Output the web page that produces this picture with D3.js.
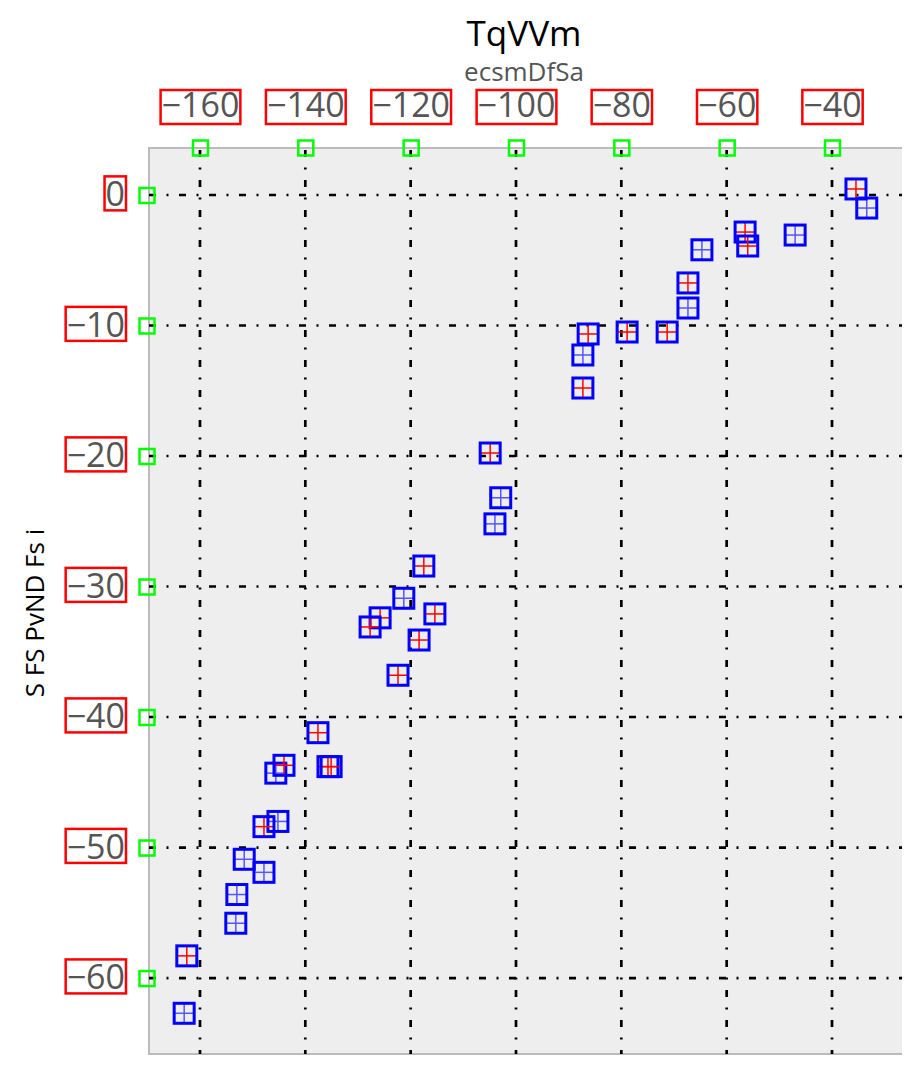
<!DOCTYPE html>
<html>
<head>
<meta charset="utf-8">
<script src="https://cdn.jsdelivr.net/npm/d3@7"></script>
<style>
  body { margin: 0; background: #fff; }
  svg { display: block; }
</style>
</head>
<body>
<div id="chart"></div>
<script>
const TITLE = "TqVVm";
const SUBTITLE = "ecsmDfSa";
const Y_LABEL = "S FS PvND Fs i";

const xTicks = [-160, -140, -120, -100, -80, -60, -40];
const yTicks = [0, -10, -20, -30, -40, -50, -60];

// points with the red cross
const redX = [-35.45, -56.5, -56.0, -67.35, -78.9, -71.3, -86.3, -87.3, -104.9, -117.5, -115.4,
              -125.8, -127.7, -118.4, -122.4, -137.6, -144.05, -135.7, -135.1, -147.85, -162.5];
const redY = [0.46, -2.84, -3.91, -6.74, -10.5, -10.5, -10.65, -14.79, -19.77, -28.43, -32.1,
              -32.4, -33.1, -34.1, -36.8, -41.2, -43.7, -43.8, -43.8, -48.4, -58.3];

// points with the blue cross
const blueX = [-33.4, -47.0, -64.7, -67.35, -87.3, -102.9, -104.0, -121.3, -145.6, -145.2,
               -151.6, -147.85, -153.0, -153.2, -163.0];
const blueY = [-1.0, -3.07, -4.2, -8.66, -12.26, -23.2, -25.2, -30.9, -44.3, -48.0,
               -50.9, -51.9, -53.6, -55.8, -62.7];

const xErr = 1.8;
const yErr = 0.8;

const W = 924, H = 1078;
const plot = { left: 149, right: 902, top: 148, bottom: 1054 };
const FONT = "'Open Sans', 'Noto Sans', sans-serif";

const x = d3.scaleLinear().domain([-169.68, -26.71]).range([plot.left, plot.right]);
const y = d3.scaleLinear().domain([3.6, -65.82]).range([plot.top, plot.bottom]);

const svg = d3.select("#chart").append("svg")
    .attr("width", W)
    .attr("height", H)
    .style("background", "#fff");

svg.append("rect")
    .attr("x", plot.left)
    .attr("y", plot.top)
    .attr("width", plot.right - plot.left)
    .attr("height", plot.bottom - plot.top)
    .attr("fill", "#eeeeee");

// frame (left, top, bottom)
svg.append("path")
    .attr("d", `M${plot.right},${plot.top}H${plot.left}V${plot.bottom}H${plot.right}`)
    .attr("fill", "none")
    .attr("stroke", "#bbbbbb")
    .attr("stroke-width", 2);

// grid
const grid = svg.append("g");
grid.selectAll("line.v")
    .data(xTicks)
    .join("line")
    .attr("class", "v")
    .attr("x1", d => x(d)).attr("x2", d => x(d))
    .attr("y1", plot.top).attr("y2", plot.bottom)
    .attr("stroke", "#000")
    .attr("stroke-width", 2.7)
    .attr("stroke-dasharray", "7,10.5,2,10.5")
    .attr("stroke-dashoffset", -2);
grid.selectAll("line.h")
    .data(yTicks)
    .join("line")
    .attr("class", "h")
    .attr("x1", plot.left).attr("x2", plot.right)
    .attr("y1", d => y(d)).attr("y2", d => y(d))
    .attr("stroke", "#000")
    .attr("stroke-width", 2.7)
    .attr("stroke-dasharray", "7,10.5,2,10.5");

// axes
const xAxis = svg.append("g")
    .attr("transform", `translate(0,${plot.top})`)
    .call(d3.axisTop(x).tickValues(xTicks).tickSize(0).tickPadding(31));
const yAxis = svg.append("g")
    .attr("transform", `translate(${plot.left},0)`)
    .call(d3.axisLeft(y).tickValues(yTicks).tickSize(0).tickPadding(24));

[xAxis, yAxis].forEach(g => {
    g.select(".domain").remove();
    g.selectAll("text")
        .attr("fill", "#555555")
        .style("font-family", FONT)
        .style("font-size", "34px");
});

// red label boxes and green tick boxes
function boxLabels(g, horizontal) {
    g.selectAll(".tick").each(function () {
        const tick = d3.select(this);
        const t = tick.select("text");
        const bb = t.node().getBBox();
        let top;
        if (horizontal) top = -31 - 27;
        else top = bb.y + bb.height / 2 - 17;
        tick.append("rect")
            .attr("x", bb.x - 1)
            .attr("y", top)
            .attr("width", bb.width + 2)
            .attr("height", 34)
            .attr("fill", "none")
            .attr("stroke", "#ff0000")
            .attr("stroke-width", 2.5);
        tick.append("rect")
            .attr("x", horizontal ? -7.5 : -9.5)
            .attr("y", -7.5)
            .attr("width", 15)
            .attr("height", 15)
            .attr("fill", "none")
            .attr("stroke", "#00ff00")
            .attr("stroke-width", 2.5);
    });
}
boxLabels(xAxis, true);
boxLabels(yAxis, false);

// points
function drawSeries(xs, ys, crossColor) {
    const pts = xs.map((v, i) => ({ x: v, y: ys[i] }));
    const g = svg.append("g");
    const p = g.selectAll("g").data(pts).join("g");
    p.append("line")
        .attr("x1", d => x(d.x - xErr)).attr("x2", d => x(d.x + xErr))
        .attr("y1", d => y(d.y)).attr("y2", d => y(d.y))
        .attr("stroke", crossColor).attr("stroke-width", 1.5);
    p.append("line")
        .attr("x1", d => x(d.x)).attr("x2", d => x(d.x))
        .attr("y1", d => y(d.y - yErr)).attr("y2", d => y(d.y + yErr))
        .attr("stroke", crossColor).attr("stroke-width", 1.5);
    p.append("rect")
        .attr("x", d => x(d.x) - 10)
        .attr("y", d => y(d.y) - 10)
        .attr("width", 20)
        .attr("height", 20)
        .attr("fill", "none")
        .attr("stroke", "#0000ff")
        .attr("stroke-width", 3);
}
drawSeries(blueX, blueY, "#5555ff");
drawSeries(redX, redY, "#ff0000");

// titles
svg.append("text")
    .attr("x", 524)
    .attr("y", 46)
    .attr("text-anchor", "middle")
    .style("font-family", FONT)
    .style("font-size", "35px")
    .attr("fill", "#000")
    .text(TITLE);
svg.append("text")
    .attr("x", 524)
    .attr("y", 81)
    .attr("text-anchor", "middle")
    .style("font-family", FONT)
    .style("font-size", "26px")
    .attr("fill", "#555555")
    .text(SUBTITLE);

svg.append("text")
    .attr("transform", "translate(44,613) rotate(-90)")
    .attr("text-anchor", "middle")
    .style("font-family", FONT)
    .style("font-size", "26px")
    .attr("fill", "#000")
    .text(Y_LABEL);
</script>
</body>
</html>
